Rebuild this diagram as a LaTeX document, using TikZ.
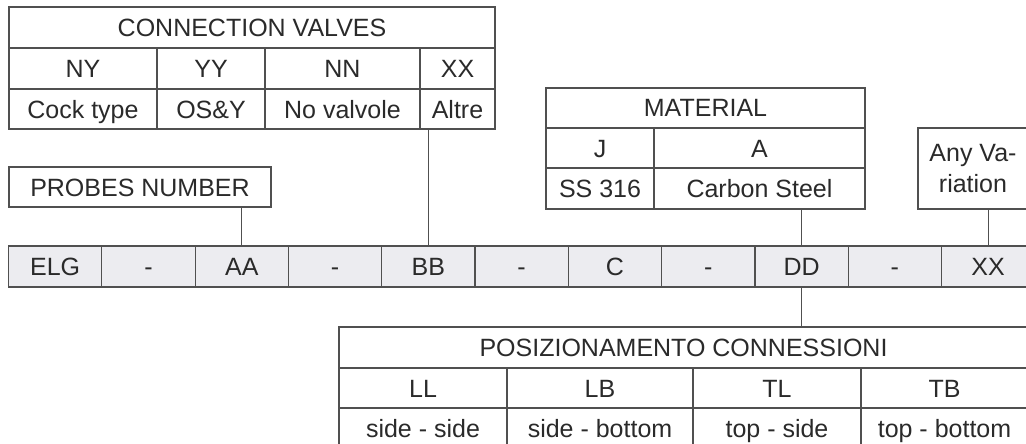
\documentclass[tikz,border=0pt]{standalone}
\usepackage{fontspec}
\setmainfont{Liberation Sans}
\usetikzlibrary{positioning}

\definecolor{linecol}{HTML}{505050}
\definecolor{codefill}{HTML}{ECECF0}
\definecolor{textcol}{HTML}{2A2A2A}

\tikzset{
  cell/.style={draw=linecol, line width=1.2pt, inner sep=0pt, text=textcol,
    minimum height=41pt, text height=18pt, text depth=0pt,
    font=\fontsize{25}{30}\selectfont},
  code/.style={cell, fill=codefill, minimum width=93.3pt},
  link/.style={draw=linecol, line width=1.2pt}
}

\begin{document}
\begin{tikzpicture}[x=1pt,y=-1pt]
  \useasboundingbox (0,0) rectangle (1026,444);

  % code row
  \foreach \t [count=\i] in {ELG,-,AA,-,BB,-,C,-,DD,-,XX}
    \node[code] (c\i) at ({8.5+93.3*(\i-0.5)},266.5) {\t};

  % connection valves
  \node[cell, minimum width=486pt] (cv) at (252,27.5) {CONNECTION VALVES};
  \node[cell, minimum width=148pt] (cv-ny) at (83,68.5) {NY};
  \node[cell, minimum width=108pt] (cv-yy) at (211,68.5) {YY};
  \node[cell, minimum width=155pt] (cv-nn) at (342.5,68.5) {NN};
  \node[cell, minimum width=75pt] (cv-xx) at (457.5,68.5) {XX};
  \node[cell, minimum width=148pt, minimum height=40pt] (cv-cock) at (83,109) {Cock type};
  \node[cell, minimum width=108pt, minimum height=40pt] (cv-os) at (211,109) {OS\&Y};
  \node[cell, minimum width=155pt, minimum height=40pt] (cv-no) at (342.5,109) {No valvole};
  \node[cell, minimum width=75pt, minimum height=40pt] (cv-alt) at (457.5,109) {Altre};
  \draw[link] (c5.north) -- (c5.north |- cv-alt.south);

  % probes
  \node[cell, minimum width=262pt, minimum height=40pt] (pn) at (140,187) {PROBES NUMBER};
  \draw[link] (c3.north) -- (c3.north |- pn.south);

  % material
  \node[cell, minimum width=319pt, minimum height=40pt] (mat) at (705.5,108) {MATERIAL};
  \node[cell, minimum width=108pt, minimum height=40pt] (mat-j) at (600,148) {J};
  \node[cell, minimum width=211pt, minimum height=40pt] (mat-a) at (759.5,148) {A};
  \node[cell, minimum width=108pt] (mat-ss) at (600,188.5) {SS 316};
  \node[cell, minimum width=211pt] (mat-cs) at (759.5,188.5) {Carbon Steel};
  \draw[link] (c9.north) -- (c9.north |- mat-cs.south);

  % variation
  \node[cell, minimum width=110pt, minimum height=81pt, text height=, text depth=,
    align=center, font=\fontsize{25}{31}\selectfont] (var) at (973,168.5) {Any Va-\\riation};
  \draw[link] (c11.north) -- (c11.north |- var.south);

  % positioning of connections
  \node[cell, minimum width=689pt] (pos) at (683.5,347.5) {POSIZIONAMENTO CONNESSIONI};
  \node[cell, minimum width=168pt, minimum height=40pt] (pos-ll) at (423,388) {LL};
  \node[cell, minimum width=186pt, minimum height=40pt] (pos-lb) at (600,388) {LB};
  \node[cell, minimum width=168pt, minimum height=40pt] (pos-tl) at (777,388) {TL};
  \node[cell, minimum width=167pt, minimum height=40pt] (pos-tb) at (944.5,388) {TB};
  \node[cell, minimum width=168pt] (pos-ss) at (423,428.5) {side - side};
  \node[cell, minimum width=186pt] (pos-sb) at (600,428.5) {side - bottom};
  \node[cell, minimum width=168pt] (pos-ts) at (777,428.5) {top - side};
  \node[cell, minimum width=167pt] (pos-tbo) at (944.5,428.5) {top - bottom};
  \draw[link] (c9.south) -- (c9.south |- pos.north);
\end{tikzpicture}
\end{document}
